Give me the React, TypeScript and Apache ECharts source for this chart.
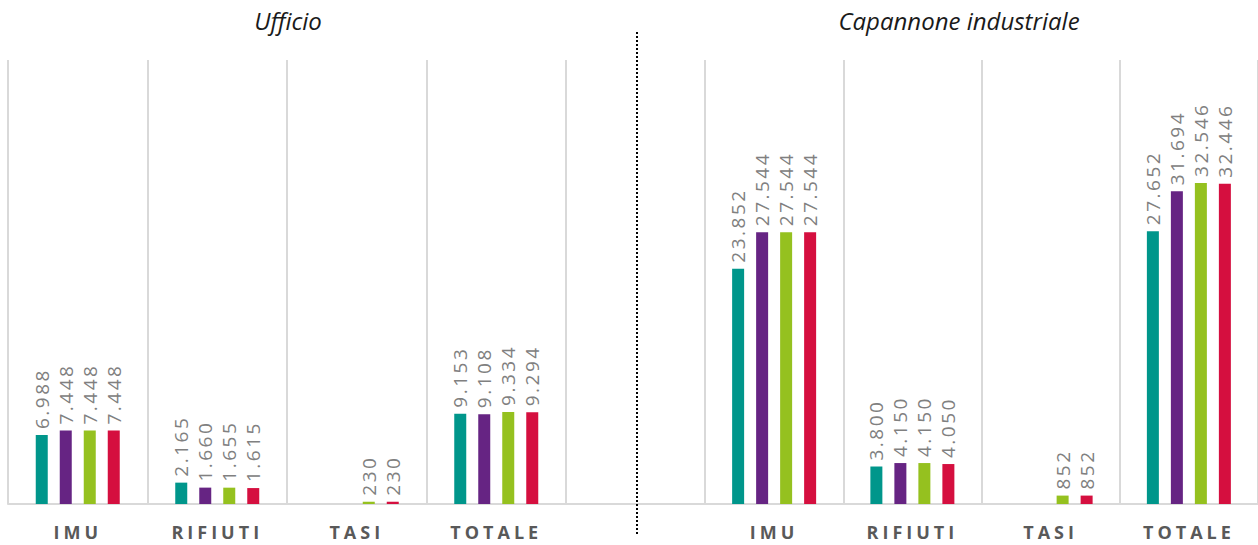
import React, { useEffect, useRef } from "react";
import * as echarts from "echarts";

const categories = ["IMU", "RIFIUTI", "TASI", "TOTALE"];
const seriesNames = ["Serie 1", "Serie 2", "Serie 3", "Serie 4"];
const colors = ["#00968B", "#662483", "#95C11F", "#D50F3F"];

// Ufficio
const ufficio1 = [6988, 2165, null, 9153];
const ufficio2 = [7448, 1660, null, 9108];
const ufficio3 = [7448, 1655, 230, 9334];
const ufficio4 = [7448, 1615, 230, 9294];

// Capannone industriale
const capannone1 = [23852, 3800, null, 27652];
const capannone2 = [27544, 4150, null, 31694];
const capannone3 = [27544, 4150, 852, 32546];
const capannone4 = [27544, 4050, 852, 32446];

const titles = ["Ufficio", "Capannone industriale"];

const fmt = (v: number) => String(v).replace(/\B(?=(\d{3})+(?!\d))/g, ".");

export default function App() {
  const ref = useRef<HTMLDivElement>(null);
  useEffect(() => {
    if (!ref.current) return;
    const chart = echarts.init(ref.current, null, { renderer: "svg" });
    const gridTop = 60;
    const gridH = 444;
    const makeSeries = (data: (number | null)[], i: number, idx: number) => ({
      name: seriesNames[i],
      type: "bar",
      xAxisIndex: idx,
      yAxisIndex: idx,
      data,
      barWidth: 12,
      barGap: "100%",
      itemStyle: { color: colors[i] },
      label: {
        show: true,
        position: "top",
        rotate: 90,
        align: "left",
        verticalAlign: "middle",
        distance: 6,
        color: "#808080",
        fontFamily: "Open Sans",
        fontWeight: 400,
        fontSize: 19,
        formatter: (p: any) => (p.value == null ? "" : fmt(p.value)),
      },
    });
    const xAxisBase = {
      type: "category",
      data: categories,
      axisTick: { show: false },
      axisLine: { lineStyle: { color: "#D9D9D9", width: 2 } },
      splitLine: { show: true, lineStyle: { color: "#D9D9D9", width: 2 } },
      axisLabel: {
        color: "#595959",
        fontFamily: "Open Sans",
        fontWeight: "bold",
        fontSize: 18,
        margin: 19,
      },
    };
    const yAxisBase = { type: "value", min: 0, max: 45000, show: false, splitLine: { show: false } };
    const titleStyle = {
      fill: "#1A1A1A",
      fontFamily: "Open Sans",
      fontStyle: "italic",
      fontSize: 24,
      align: "center",
      verticalAlign: "middle",
    };
    chart.setOption({
      animation: false,
      grid: [
        { left: 8, top: gridTop, width: 558, height: gridH },
        { left: 705, top: gridTop, width: 556, height: gridH },
      ],
      xAxis: [
        { ...xAxisBase, gridIndex: 0 },
        { ...xAxisBase, gridIndex: 1 },
      ],
      yAxis: [
        { ...yAxisBase, gridIndex: 0 },
        { ...yAxisBase, gridIndex: 1 },
      ],
      series: [
        makeSeries(ufficio1, 0, 0),
        makeSeries(ufficio2, 1, 0),
        makeSeries(ufficio3, 2, 0),
        makeSeries(ufficio4, 3, 0),
        makeSeries(capannone1, 0, 1),
        makeSeries(capannone2, 1, 1),
        makeSeries(capannone3, 2, 1),
        makeSeries(capannone4, 3, 1),
      ],
      graphic: [
        {
          type: "line",
          shape: { x1: 566, y1: gridTop + gridH, x2: 705, y2: gridTop + gridH },
          style: { stroke: "#D9D9D9", lineWidth: 2 },
        },
        {
          type: "line",
          shape: { x1: 637, y1: 32, x2: 637, y2: 536 },
          style: { stroke: "#000", lineWidth: 2, lineDash: [2, 2] },
        },
        { type: "text", x: 288, y: 20, style: { ...titleStyle, text: titles[0] } },
        { type: "text", x: 959, y: 20, style: { ...titleStyle, text: titles[1] } },
      ],
    });
    const spaceLabels = () => {
      if (!ref.current) return;
      ref.current.querySelectorAll("text").forEach((t) => {
        const s = (t.textContent || "").trim();
        if (categories.includes(s)) {
          (t as SVGTextElement).style.letterSpacing = "4px";
        } else if (/^\d[\d.]*$/.test(s)) {
          (t as SVGTextElement).style.letterSpacing = "2.5px";
        }
      });
    };
    spaceLabels();
    chart.on("finished", spaceLabels);
    return () => chart.dispose();
  }, []);
  return (
    <div
      ref={ref}
      style={{ position: "fixed", left: 0, top: 0, width: 1258, height: 545, background: "#fff" }}
    />
  );
}
